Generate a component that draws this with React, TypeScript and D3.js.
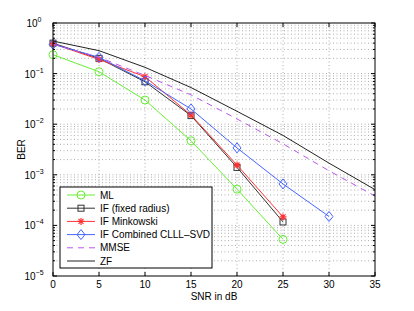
import React from "react";
import * as d3 from "d3";

const width = 414;
const height = 311;
const margin = { top: 23, right: 39, bottom: 35, left: 53 };

const snr = [0, 5, 10, 15, 20, 25, 30, 35];
const xTicks = [0, 5, 10, 15, 20, 25, 30, 35];
const yDecades = [0, -1, -2, -3, -4, -5];

const ml = [0.236, 0.109, 0.03, 0.0047, 5.2e-4, 5.3e-5];
const ifFixed = [0.4, 0.2, 0.069, 0.0148, 0.0014, 1.17e-4];
const ifMinkowski = [0.39, 0.19, 0.087, 0.0152, 0.00156, 1.47e-4];
const ifCombined = [0.38, 0.21, 0.072, 0.02, 0.0034, 6.6e-4, 1.5e-4];
const mmse = [0.38, 0.21, 0.092, 0.038, 0.0127, 0.0041, 0.0012, 3.8e-4];
const zf = [0.44, 0.284, 0.133, 0.053, 0.018, 0.006, 0.0017, 5.1e-4];

type Series = {
  name: string;
  values: number[];
  color: string;
  marker: string;
  dash?: string;
};

const series: Series[] = [
  { name: "ML", values: ml, color: "#66ee33", marker: "circle" },
  { name: "IF (fixed radius)", values: ifFixed, color: "#333333", marker: "square" },
  { name: "IF Minkowski", values: ifMinkowski, color: "#ff3333", marker: "star" },
  { name: "IF Combined CLLL\u2013SVD", values: ifCombined, color: "#4466ff", marker: "diamond" },
  { name: "MMSE", values: mmse, color: "#bb55ee", marker: "none", dash: "6,5" },
  { name: "ZF", values: zf, color: "#222222", marker: "none" },
];

const x = d3
  .scaleLinear()
  .domain([0, 35])
  .range([margin.left, width - margin.right]);
const y = d3
  .scaleLog()
  .domain([1e-5, 1])
  .range([height - margin.bottom, margin.top]);

function Marker({ type, cx, cy, color }: { type: string; cx: number; cy: number; color: string }) {
  if (type === "circle")
    return <circle cx={cx} cy={cy} r={4} fill="none" stroke={color} strokeWidth={1} />;
  if (type === "square")
    return <rect x={cx - 3} y={cy - 3} width={6} height={6} fill="none" stroke={color} strokeWidth={1} />;
  if (type === "diamond")
    return (
      <path
        d={`M${cx},${cy - 5}L${cx + 4},${cy}L${cx},${cy + 5}L${cx - 4},${cy}Z`}
        fill="none"
        stroke={color}
        strokeWidth={1}
      />
    );
  if (type === "star")
    return (
      <path
        d={`M${cx - 3.5},${cy}H${cx + 3.5}M${cx},${cy - 3.5}V${cy + 3.5}M${cx - 2.5},${cy - 2.5}L${cx + 2.5},${cy + 2.5}M${cx - 2.5},${cy + 2.5}L${cx + 2.5},${cy - 2.5}`}
        stroke={color}
        strokeWidth={1.2}
      />
    );
  return null;
}

export default function App() {
  const x0 = margin.left;
  const x1 = width - margin.right;
  const y0 = height - margin.bottom;
  const y1 = margin.top;

  const minor: number[] = [];
  yDecades.slice(0, -1).forEach((e) => {
    for (let k = 2; k <= 9; k++) minor.push(k * Math.pow(10, e - 1));
  });

  const line = d3
    .line<number>()
    .x((_, i) => x(snr[i]))
    .y((d) => y(d));

  const font = "'Liberation Sans', Arial, sans-serif";
  const lg = { left: 60, top: 187, w: 152, h: 81, row: 13.2 };

  return (
    <svg
      width={width}
      height={height}
      style={{ position: "absolute", left: 0, top: 0, background: "#fff" }}
      fontFamily={font}
    >
      <rect x={x0} y={y1} width={x1 - x0} height={y0 - y1} fill="#fff" />
      {/* grid */}
      <g stroke="#999" strokeWidth={0.8} strokeDasharray="1,2.5">
        {xTicks.slice(1, -1).map((t) => (
          <line key={"gx" + t} x1={x(t)} x2={x(t)} y1={y0} y2={y1} />
        ))}
        {[...minor, ...yDecades.slice(1, -1).map((e) => Math.pow(10, e))].map((v, i) => (
          <line key={"gy" + i} x1={x0} x2={x1} y1={y(v)} y2={y(v)} />
        ))}
      </g>
      {/* series */}
      {series.map((s) => (
        <g key={s.name}>
          <path
            d={line(s.values) || ""}
            fill="none"
            stroke={s.color}
            strokeWidth={1}
            strokeDasharray={s.dash}
          />
          {s.values.map((v, i) => (
            <Marker key={i} type={s.marker} cx={x(snr[i])} cy={y(v)} color={s.color} />
          ))}
        </g>
      ))}
      {/* axes box and ticks */}
      <rect x={x0} y={y1} width={x1 - x0} height={y0 - y1} fill="none" stroke="#000" strokeWidth={1} />
      <g stroke="#000" strokeWidth={1}>
        {xTicks.map((t) => (
          <g key={"tx" + t}>
            <line x1={x(t)} x2={x(t)} y1={y0} y2={y0 - 4} />
            <line x1={x(t)} x2={x(t)} y1={y1} y2={y1 + 4} />
          </g>
        ))}
        {yDecades.map((e) => (
          <g key={"ty" + e}>
            <line x1={x0} x2={x0 + 4} y1={y(Math.pow(10, e))} y2={y(Math.pow(10, e))} />
            <line x1={x1} x2={x1 - 4} y1={y(Math.pow(10, e))} y2={y(Math.pow(10, e))} />
          </g>
        ))}
        {minor.map((v, i) => (
          <g key={"tm" + i}>
            <line x1={x0} x2={x0 + 2} y1={y(v)} y2={y(v)} />
            <line x1={x1} x2={x1 - 2} y1={y(v)} y2={y(v)} />
          </g>
        ))}
      </g>
      {/* tick labels */}
      <g fontSize={10} fill="#000">
        {xTicks.map((t) => (
          <text key={"lx" + t} x={x(t)} y={y0 + 12} textAnchor="middle">
            {t}
          </text>
        ))}
        {yDecades.map((e) => (
          <text key={"ly" + e} x={x0 - 19} y={y(Math.pow(10, e)) + 4} textAnchor="middle">
            10
            <tspan fontSize={7} dy={-5}>
              {e === 0 ? "0" : "\u2212" + -e}
            </tspan>
          </text>
        ))}
      </g>
      <text x={(x0 + x1) / 2} y={height - 11} textAnchor="middle" fontSize={10}>
        SNR in dB
      </text>
      <text
        transform={`translate(25, ${(y0 + y1) / 2}) rotate(-90)`}
        textAnchor="middle"
        fontSize={10}
      >
        BER
      </text>
      {/* legend */}
      <g>
        <rect x={lg.left} y={lg.top} width={lg.w} height={lg.h} fill="#fff" stroke="#000" strokeWidth={1} />
        {series.map((s, i) => {
          const cy = lg.top + 8 + i * lg.row;
          return (
            <g key={"lg" + s.name}>
              <line x1={67} x2={95} y1={cy} y2={cy} stroke={s.color} strokeWidth={1} strokeDasharray={s.dash} />
              <Marker type={s.marker} cx={81} cy={cy} color={s.color} />
              <text x={100} y={cy + 3.5} fontSize={10}>
                {s.name}
              </text>
            </g>
          );
        })}
      </g>
    </svg>
  );
}
